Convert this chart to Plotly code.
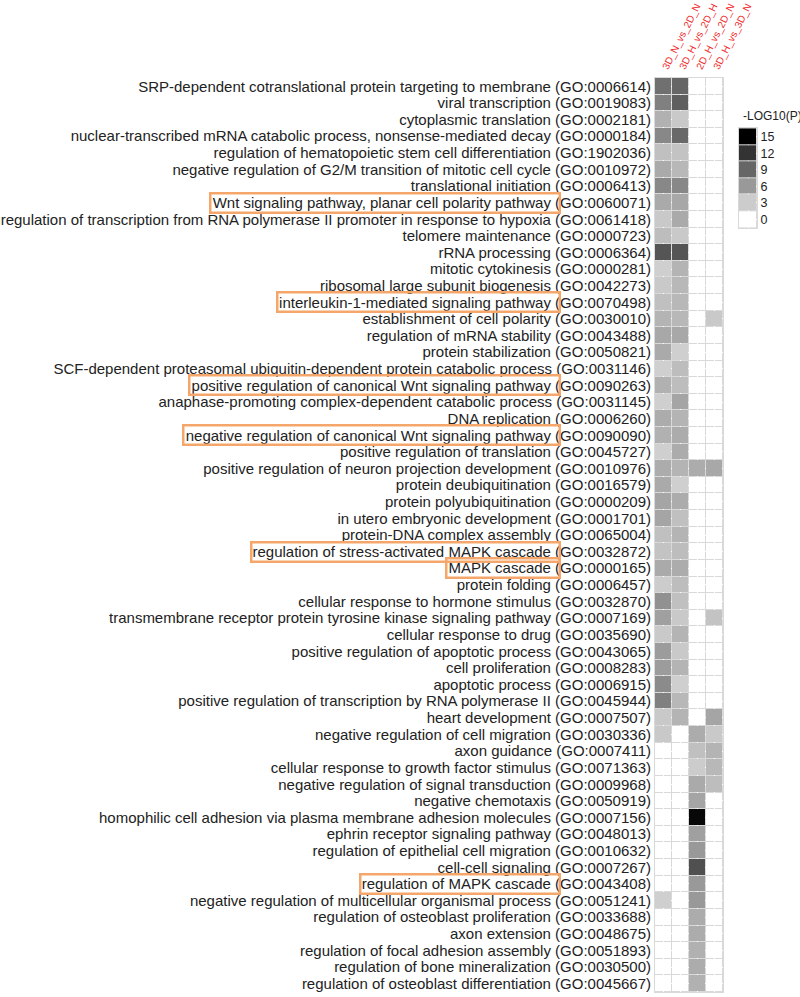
import plotly.graph_objects as go

comparisons = ["3D_N_vs_2D_N", "3D_H_vs_2D_H", "2D_H_vs_2D_N", "3D_H_vs_3D_N"]

terms = [
    "SRP-dependent cotranslational protein targeting to membrane",
    "viral transcription",
    "cytoplasmic translation",
    "nuclear-transcribed mRNA catabolic process, nonsense-mediated decay",
    "regulation of hematopoietic stem cell differentiation",
    "negative regulation of G2/M transition of mitotic cell cycle",
    "translational initiation",
    "Wnt signaling pathway, planar cell polarity pathway",
    "regulation of transcription from RNA polymerase II promoter in response to hypoxia",
    "telomere maintenance",
    "rRNA processing",
    "mitotic cytokinesis",
    "ribosomal large subunit biogenesis",
    "interleukin-1-mediated signaling pathway",
    "establishment of cell polarity",
    "regulation of mRNA stability",
    "protein stabilization",
    "SCF-dependent proteasomal ubiquitin-dependent protein catabolic process",
    "positive regulation of canonical Wnt signaling pathway",
    "anaphase-promoting complex-dependent catabolic process",
    "DNA replication",
    "negative regulation of canonical Wnt signaling pathway",
    "positive regulation of translation",
    "positive regulation of neuron projection development",
    "protein deubiquitination",
    "protein polyubiquitination",
    "in utero embryonic development",
    "protein-DNA complex assembly",
    "regulation of stress-activated MAPK cascade",
    "MAPK cascade",
    "protein folding",
    "cellular response to hormone stimulus",
    "transmembrane receptor protein tyrosine kinase signaling pathway",
    "cellular response to drug",
    "positive regulation of apoptotic process",
    "cell proliferation",
    "apoptotic process",
    "positive regulation of transcription by RNA polymerase II",
    "heart development",
    "negative regulation of cell migration",
    "axon guidance",
    "cellular response to growth factor stimulus",
    "negative regulation of signal transduction",
    "negative chemotaxis",
    "homophilic cell adhesion via plasma membrane adhesion molecules",
    "ephrin receptor signaling pathway",
    "regulation of epithelial cell migration",
    "cell-cell signaling",
    "regulation of MAPK cascade",
    "negative regulation of multicellular organismal process",
    "regulation of osteoblast proliferation",
    "axon extension",
    "regulation of focal adhesion assembly",
    "regulation of bone mineralization",
    "regulation of osteoblast differentiation",
]

go_ids = [
    "GO:0006614", "GO:0019083", "GO:0002181", "GO:0000184", "GO:1902036",
    "GO:0010972", "GO:0006413", "GO:0060071", "GO:0061418", "GO:0000723",
    "GO:0006364", "GO:0000281", "GO:0042273", "GO:0070498", "GO:0030010",
    "GO:0043488", "GO:0050821", "GO:0031146", "GO:0090263", "GO:0031145",
    "GO:0006260", "GO:0090090", "GO:0045727", "GO:0010976", "GO:0016579",
    "GO:0000209", "GO:0001701", "GO:0065004", "GO:0032872", "GO:0000165",
    "GO:0006457", "GO:0032870", "GO:0007169", "GO:0035690", "GO:0043065",
    "GO:0008283", "GO:0006915", "GO:0045944", "GO:0007507", "GO:0030336",
    "GO:0007411", "GO:0071363", "GO:0009968", "GO:0050919", "GO:0007156",
    "GO:0048013", "GO:0010632", "GO:0007267", "GO:0043408", "GO:0051241",
    "GO:0033688", "GO:0048675", "GO:0051893", "GO:0030500", "GO:0045667",
]

# -log10(P) per comparison, one value per term
n_vs_2dn = [8.4, 7.5, 4.6, 7.0, 3.7, 5.0, 7.0, 5.0, 3.2, 3.9,
            10.0, 2.8, 3.2, 3.7, 4.4, 5.1, 5.0, 2.8, 4.6, 2.8,
            4.9, 4.6, 2.8, 4.9, 5.0, 5.3, 5.3, 3.7, 3.5, 5.0,
            3.0, 6.5, 5.6, 3.2, 5.8, 5.8, 6.8, 7.5, 3.2, 3.2,
            0, 0, 0, 0, 0, 0, 0, 0, 0, 2.8,
            0, 0, 0, 0, 0]
h_vs_2dh = [9.0, 9.4, 3.2, 8.8, 3.5, 4.2, 7.0, 5.1, 5.0, 3.2,
            10.0, 4.4, 4.2, 4.2, 4.2, 5.1, 2.8, 3.9, 3.9, 5.3,
            4.4, 4.9, 4.9, 4.4, 2.8, 4.9, 3.7, 4.4, 3.9, 4.9,
            3.9, 3.7, 3.2, 4.4, 3.2, 4.4, 2.8, 4.2, 4.4, 0,
            0, 0, 0, 0, 0, 0, 0, 0, 0, 0,
            0, 0, 0, 0, 0]
h2d_vs_n2d = [0, 0, 0, 0, 0, 0, 0, 0, 0, 0,
              0, 0, 0, 0, 0, 0, 0, 0, 0, 0,
              0, 0, 0, 4.9, 0, 0, 0, 0, 0, 0,
              0, 0, 0, 0, 0, 0, 0, 0, 0, 4.9,
              3.7, 3.0, 5.0, 5.3, 14.5, 5.6, 6.0, 10.3, 6.0, 6.0,
              4.9, 4.9, 4.6, 4.9, 4.6]
h3d_vs_n3d = [0, 0, 0, 0, 0, 0, 0, 0, 0, 0,
              0, 0, 0, 0, 3.2, 0, 0, 0, 0, 0,
              0, 0, 0, 5.1, 0, 0, 0, 0, 0, 0,
              0, 0, 3.5, 0, 0, 0, 0, 0, 5.3, 3.2,
              4.4, 4.2, 3.9, 0, 0, 0, 0, 0, 0, 0,
              0, 0, 0, 0, 0]

highlighted = [
    "Wnt signaling pathway, planar cell polarity pathway",
    "interleukin-1-mediated signaling pathway",
    "positive regulation of canonical Wnt signaling pathway",
    "negative regulation of canonical Wnt signaling pathway",
    "regulation of stress-activated MAPK cascade",
    "MAPK cascade",
    "regulation of MAPK cascade",
]

legend_ticks = [15, 12, 9, 6, 3, 0]

labels = [f"{t} ({g})" for t, g in zip(terms, go_ids)]
z = [list(r) for r in zip(n_vs_2dn, h_vs_2dh, h2d_vs_n2d, h3d_vs_n3d)]
grays = [[0, "white"], [1, "black"]]
FONT = "Liberation Sans, Arial, sans-serif"
GRID = "#d9d9d9"

fig = go.Figure()
fig.add_trace(go.Heatmap(
    z=z, x=comparisons, y=labels,
    colorscale=grays, zmin=0, zmax=15, showscale=False,
    xgap=1, ygap=1, hoverinfo="skip",
))
# stepped legend drawn as its own little heatmap
fig.add_trace(go.Heatmap(
    z=[[v] for v in legend_ticks], x=["k"], y=[str(v) for v in legend_ticks],
    colorscale=grays, zmin=0, zmax=15, showscale=False,
    xgap=1, ygap=1, xaxis="x2", yaxis="y2", hoverinfo="skip",
))

fig.update_layout(
    width=800, height=997,
    margin=dict(l=655, r=5, t=78, b=5),
    paper_bgcolor="white", plot_bgcolor=GRID,
    font=dict(family=FONT, color="#222"),
    xaxis=dict(domain=[0, 0.486], side="top", tickangle=-63, automargin=False,
               tickfont=dict(size=10, color="#f02a2a"),
               showline=True, mirror=True, linecolor=GRID, ticks=""),
    yaxis=dict(autorange="reversed", automargin=False, dtick=1,
               tickfont=dict(size=15, color="#222"),
               showline=True, mirror=True, linecolor=GRID, ticks=""),
    xaxis2=dict(domain=[0.600, 0.729], anchor="y2", showticklabels=False,
                automargin=False,
                showline=True, mirror=True, linecolor=GRID, ticks=""),
    yaxis2=dict(domain=[0.836, 0.945], anchor="x2", side="right",
                autorange="reversed", automargin=False, dtick=1,
                tickfont=dict(size=12.5, color="#222"),
                showline=True, mirror=True, linecolor=GRID, ticks=""),
)

fig.add_annotation(text="-LOG10(P)", xref="x2 domain", yref="y2 domain",
                   x=0, y=1, xanchor="left", yanchor="bottom", xshift=2, yshift=3,
                   showarrow=False, font=dict(size=12, color="#222"))

for t, lab in zip(terms, labels):
    if t in highlighted:
        fig.add_annotation(text=t, xref="x domain", yref="y", x=0, y=lab,
                           xanchor="right", xshift=-94, showarrow=False,
                           height=9, borderpad=4,
                           font=dict(size=15, color="rgba(0,0,0,0)"),
                           bordercolor="#f5a66b", borderwidth=2.5)

# drop the default body margin so the figure sits at the window's corner
fig.write_html("out.html", config={"displayModeBar": False},
               post_script="document.body.style.margin='0';")
